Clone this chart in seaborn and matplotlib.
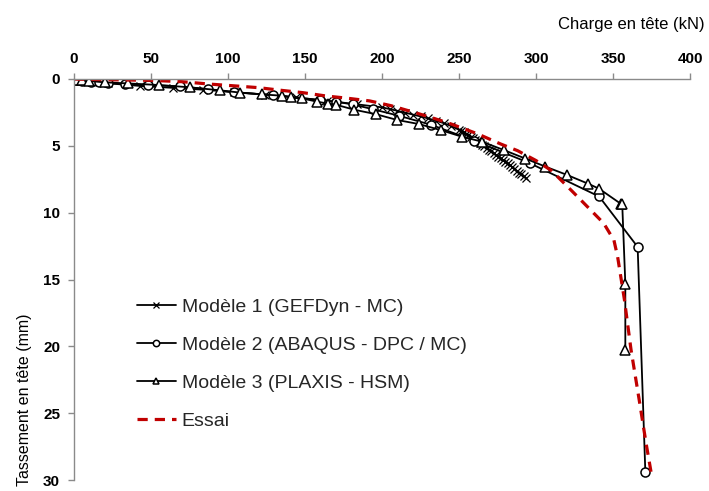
import matplotlib
matplotlib.use("Agg")
import matplotlib.pyplot as plt
import seaborn as sns
import pandas as pd

# ---- data ----
charge_m1 = [0, 1, 3, 6, 12, 22, 43, 64, 84, 104, 124, 144, 164, 184, 200, 205, 210, 215,
             220, 225, 230, 235, 240, 245, 250,
             251.5, 253, 254.5, 256, 257.5, 259, 260.5, 262, 263.5, 265, 266.5, 268,
             269.5, 271, 272.5, 274, 275.5, 277, 278.5, 280, 281.5, 283, 284.5, 286,
             287.5, 289, 290.5, 292, 293.5]
tass_m1 = [0, 0.03, 0.07, 0.12, 0.2, 0.32, 0.52, 0.66, 0.8, 0.98, 1.16, 1.38, 1.62, 1.9,
           2.12, 2.25, 2.38, 2.52, 2.66, 2.8, 2.95, 3.12, 3.3, 3.52, 3.8,
           3.9, 4.0, 4.1, 4.21, 4.32, 4.43, 4.55, 4.67, 4.79, 4.91, 5.03, 5.15,
           5.28, 5.41, 5.54, 5.67, 5.8, 5.93, 6.06, 6.19, 6.32, 6.45, 6.58, 6.72,
           6.86, 7.0, 7.14, 7.28, 7.42]

charge_m2 = [0, 1, 2, 5, 11, 16, 22, 33, 48, 69, 87, 104, 129, 160, 170, 181, 194, 211,
             232, 260, 296, 341, 366, 371]
tass_m2 = [0, 0.04, 0.08, 0.15, 0.2, 0.23, 0.3, 0.4, 0.45, 0.55, 0.77, 1.0, 1.2, 1.58,
           1.7, 1.9, 2.26, 2.75, 3.43, 4.62, 6.3, 8.79, 12.56, 29.4]

charge_m3 = [0, 2, 5, 10, 20, 35, 55, 75, 95, 108, 122, 135, 141, 148, 158, 165, 170, 182,
             196, 210, 224, 238, 252, 265, 279, 293, 306, 320, 334, 341, 355, 356, 358, 358]
tass_m3 = [0, 0.05, 0.1, 0.15, 0.25, 0.33, 0.45, 0.62, 0.85, 1.02, 1.15, 1.25, 1.35, 1.45,
           1.7, 1.84, 1.92, 2.3, 2.63, 3.07, 3.37, 3.82, 4.32, 4.69, 5.31, 5.95, 6.55,
           7.17, 7.84, 8.21, 9.33, 9.38, 15.3, 20.25]

charge_essai = [0, 3, 20, 50, 70, 88, 105, 120, 134, 148.5, 163.6, 177.7, 192, 206, 221,
                232, 245, 262, 277, 288, 300, 310, 323, 333.6, 344, 350.6, 353, 357.4,
                361.7, 367, 371.4, 374.7]
tass_essai = [0, 0.02, 0.05, 0.1, 0.2, 0.38, 0.52, 0.65, 0.84, 1.02, 1.27, 1.44, 1.64, 2.0,
              2.5, 2.88, 3.37, 4.1, 4.86, 5.36, 6.1, 6.85, 8.34, 9.58, 10.8, 12.06, 13.3,
              16.5, 20.25, 24.0, 27.2, 29.4]

labels = ["Modèle 1 (GEFDyn - MC)", "Modèle 2 (ABAQUS - DPC / MC)",
          "Modèle 3 (PLAXIS - HSM)", "Essai"]
x_ticks = [0, 50, 100, 150, 200, 250, 300, 350, 400]
y_ticks = [0, 5, 10, 15, 20, 25, 30]

# ---- style ----
sns.set_theme(style="white")
plt.rcParams["font.family"] = ["Liberation Sans", "DejaVu Sans"]

fig = plt.figure(figsize=(7.09, 4.91), dpi=100)
ax = fig.add_axes([74 / 709, 1 - 480 / 491, (690 - 74) / 709, (480 - 79) / 491])

grey = "#8a8a8a"
lw = 1.3

sns.lineplot(x=charge_m1, y=tass_m1, sort=False, estimator=None, ax=ax, color="black",
             lw=lw, marker="x", markersize=5.5, markeredgewidth=0.9,
             markeredgecolor="black", label=labels[0])
sns.lineplot(x=charge_m2, y=tass_m2, sort=False, estimator=None, ax=ax, color="black",
             lw=lw, marker="o", markersize=6.5, markerfacecolor="white",
             markeredgecolor="black", markeredgewidth=1.1, label=labels[1])
sns.lineplot(x=charge_m3, y=tass_m3, sort=False, estimator=None, ax=ax, color="black",
             lw=lw, marker="^", markersize=6.5, markerfacecolor="white",
             markeredgecolor="black", markeredgewidth=1.1, label=labels[2])
sns.lineplot(x=charge_essai, y=tass_essai, sort=False, estimator=None, ax=ax,
             color="#C00000", lw=2.3, linestyle=(0, (3.2, 2.2)), label=labels[3])

ax.set_xlim(0, 400)
ax.set_ylim(30, 0)
ax.set_xticks(x_ticks)
ax.set_yticks(y_ticks)
ax.xaxis.tick_top()
ax.set_xlabel("")
ax.set_ylabel("")

for side in ["right", "bottom"]:
    ax.spines[side].set_visible(False)
for side in ["left", "top"]:
    ax.spines[side].set_color(grey)
    ax.spines[side].set_linewidth(1.0)

ax.tick_params(axis="x", which="major", top=True, bottom=False, direction="out",
               length=4, width=1, color=grey, pad=5.5, labelsize=11, labelcolor="black")
ax.tick_params(axis="y", which="major", left=True, direction="out",
               length=4, width=1, color=grey, pad=6, labelsize=11, labelcolor="black")
for lab in ax.get_xticklabels() + ax.get_yticklabels():
    lab.set_fontweight("bold")

fig.text(705 / 709, 1 - 25 / 491, "Charge en tête (kN)", ha="right", va="center",
         fontsize=12, color="black")
fig.text(24 / 709, 1 - 400 / 491, "Tassement en tête (mm)", ha="center", va="center",
         rotation=90, fontsize=11.5, color="black")

leg = ax.legend(loc="upper left", bbox_to_anchor=(137 / 709, 1 - 298 / 491),
                bbox_transform=fig.transFigure, frameon=False, fontsize=14,
                handlelength=2.0, handletextpad=0.3, labelspacing=1.05,
                borderpad=0, borderaxespad=0, markerscale=0.7)

fig.savefig("out.png", dpi=100)
